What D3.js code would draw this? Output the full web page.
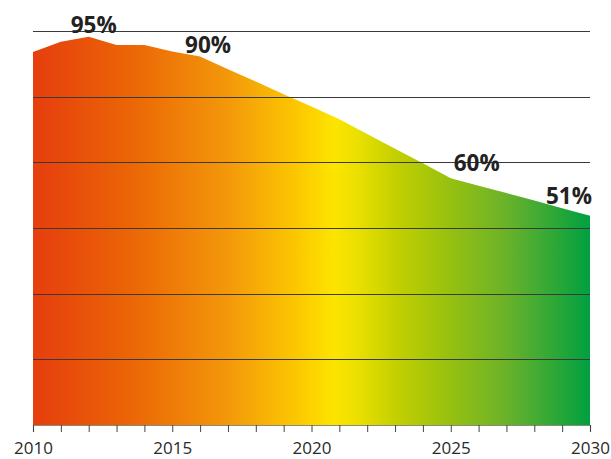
<!DOCTYPE html>
<html>
<head>
<meta charset="utf-8">
<script src="https://cdn.jsdelivr.net/npm/d3@7/dist/d3.min.js"></script>
<style>
  html, body { margin: 0; padding: 0; background: #fff; }
  svg { display: block; }
</style>
</head>
<body>
<div id="chart"></div>
<script>
// ---- data ----
const years = [2010, 2011, 2012, 2013, 2014, 2015, 2016, 2017, 2018, 2019, 2020,
               2021, 2022, 2023, 2024, 2025, 2026, 2027, 2028, 2029, 2030];
const shares = [90.9, 93.4, 94.6, 92.6, 92.6, 91.0, 89.8, 86.7, 83.7, 80.6, 77.6,
                74.5, 70.9, 67.3, 63.8, 60.1, 58.3, 56.5, 54.7, 52.8, 51.0];
const tickYears = [2010, 2015, 2020, 2025, 2030];
const gridValues = [16, 32, 48, 64, 80, 96];
const labelYears = [2012, 2016, 2025, 2030];
const labelTexts = ["95%", "90%", "60%", "51%"];

// ---- layout ----
const W = 611, H = 459;
const x = d3.scaleLinear().domain([2010, 2030]).range([33, 590]);
const y = d3.scaleLinear().domain([0, 96]).range([425, 31]);

const svg = d3.select("#chart").append("svg")
  .attr("width", W).attr("height", H);

const defs = svg.append("defs");
const grad = defs.append("linearGradient")
  .attr("id", "g").attr("gradientUnits", "userSpaceOnUse")
  .attr("x1", x(2010)).attr("x2", x(2030)).attr("y1", 0).attr("y2", 0);
[[0, "#e63e0e"], [0.17, "#eb6406"], [0.35, "#f3980a"], [0.48, "#fcca00"],
 [0.54, "#fde400"], [0.58, "#ece000"], [0.65, "#c4d000"], [0.75, "#96c010"],
 [0.85, "#6ab22a"], [1, "#00a040"]].forEach(([o, c]) =>
  grad.append("stop").attr("offset", o).attr("stop-color", c));

const data = years.map((yr, i) => ({ yr, v: shares[i] }));

svg.append("path")
  .datum(data)
  .attr("fill", "url(#g)")
  .attr("d", d3.area().x(d => x(d.yr)).y0(y(0)).y1(d => y(d.v)));

// gridlines
svg.append("g").selectAll("line").data(gridValues).join("line")
  .attr("x1", x(2010)).attr("x2", x(2030))
  .attr("y1", d => Math.round(y(d)) + 0.5).attr("y2", d => Math.round(y(d)) + 0.5)
  .attr("stroke", "#3a3a3a").attr("stroke-width", 1);

// x axis
const axis = d3.axisBottom(x)
  .tickValues(years)
  .tickSize(7)
  .tickFormat(d => tickYears.includes(d) ? String(d) : "");
const ax = svg.append("g").attr("transform", `translate(0,${y(0)})`).call(axis);
ax.select(".domain").attr("stroke", "#8a8a7a").attr("stroke-width", 1.2);
ax.selectAll(".tick line").attr("stroke", "#444");
ax.selectAll(".tick text")
  .attr("font-family", "'Open Sans', sans-serif")
  .attr("font-size", 17)
  .attr("fill", "#2a2a2a")
  .attr("dy", "1.12em");

// value labels
const labelDx = [5, 8, 26, -21];
const labelDy = [-4, -3, -7, -12];
svg.append("g").selectAll("text").data(labelYears).join("text")
  .attr("x", (d, i) => x(d) + labelDx[i])
  .attr("y", (d, i) => y(shares[years.indexOf(d)]) + labelDy[i])
  .attr("text-anchor", "middle")
  .attr("font-family", "'Open Sans', sans-serif")
  .attr("font-weight", "bold")
  .attr("font-size", 22.5)
  .attr("fill", "#222")
  .text((d, i) => labelTexts[i]);
</script>
</body>
</html>
